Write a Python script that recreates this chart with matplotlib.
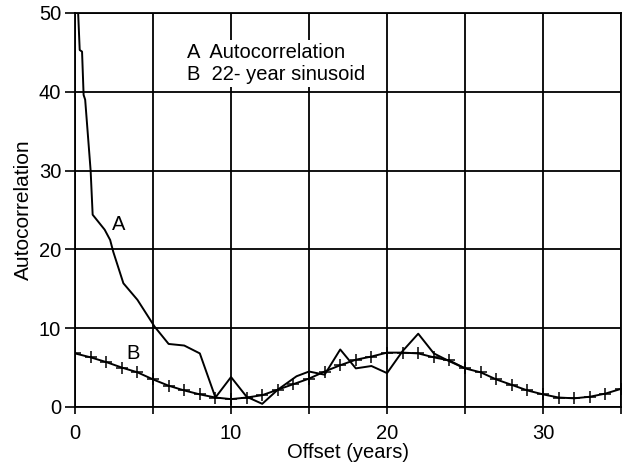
import matplotlib
matplotlib.use('Agg')
import matplotlib.pyplot as plt

# DATA ---------------------------------------------------------------------------------------------
# curve A: autocorrelation
a_offset = [0.2, 0.3, 0.45, 0.55, 0.65, 1.0, 1.13, 1.9, 2.25, 2.45, 3.1, 4.0, 5.1, 6.0, 7.0, 8.0,
            9.0, 10.0, 11.0, 12.0, 13.0, 14.2, 15.0, 16.0, 17.0, 18.0, 19.0, 20.0, 21.0, 22.0,
            23.0, 24.0, 25.0]
a_value = [50.0, 45.3, 45.1, 39.6, 39.0, 30.0, 24.4, 22.5, 21.2, 19.7, 15.7, 13.6, 10.2, 8.0, 7.8,
           6.8, 1.2, 3.8, 1.3, 0.4, 2.2, 3.9, 4.5, 4.1, 7.3, 4.9, 5.2, 4.3, 7.1, 9.3,
           6.8, 5.8, 4.9]
# curve B: 22-year sinusoid, one point per year
b_offset = list(range(0, 36))
b_value = [6.8, 6.3, 5.7, 5.0, 4.4, 3.5, 2.7, 2.1, 1.6, 1.2, 1.0, 1.2, 1.5, 2.2, 2.9, 3.6,
           4.5, 5.3, 6.0, 6.4, 6.9, 6.9, 6.8, 6.3, 5.9, 4.9, 4.4, 3.5, 2.8, 2.1, 1.6, 1.2,
           1.1, 1.3, 1.7, 2.3]
# --------------------------------------------------------------------------------------------------

plt.rcParams['font.family'] = ['Liberation Sans', 'DejaVu Sans']
plt.rcParams['font.size'] = 14.5

fig = plt.figure(figsize=(6.31, 4.67), dpi=100)
ax = fig.add_axes([0.1189, 0.1285, 0.8653, 0.8437])

ax.plot(a_offset, a_value, color='black', lw=1.4, zorder=3)
ax.plot(b_offset, b_value, color='black', lw=1.4, marker='+', ms=8, mew=1.1, zorder=3)

ax.set_xlim(0, 35)
ax.set_ylim(0, 50)
ax.set_xticks(range(0, 36, 5))
ax.set_xticklabels(['0', '', '10', '', '20', '', '30', ''])
ax.set_yticks(range(0, 51, 10))
ax.grid(True, color='black', lw=1.3)
ax.set_axisbelow(True)
for s in ax.spines.values():
    s.set_linewidth(1.3)
ax.tick_params(axis='x', direction='out', length=5, width=1.2, colors='black', pad=7)
ax.tick_params(axis='y', direction='out', length=7, width=1.2, colors='black', pad=3)

ax.text(2.8, 23.1, 'A', ha='center', va='center', zorder=4)
ax.text(3.75, 6.8, 'B', ha='center', va='center', zorder=4)
ax.text(7.2, 41.0, 'A  Autocorrelation\nB  22- year sinusoid', ha='left', va='bottom',
        fontsize=14.5, linespacing=1.2, zorder=4,
        bbox=dict(facecolor='white', edgecolor='none', pad=2))

ax.set_xlabel('Offset (years)', fontsize=14.5, labelpad=0)
ax.set_ylabel('Autocorrelation', fontsize=15, labelpad=4)

fig.savefig('out.png', dpi=100)
